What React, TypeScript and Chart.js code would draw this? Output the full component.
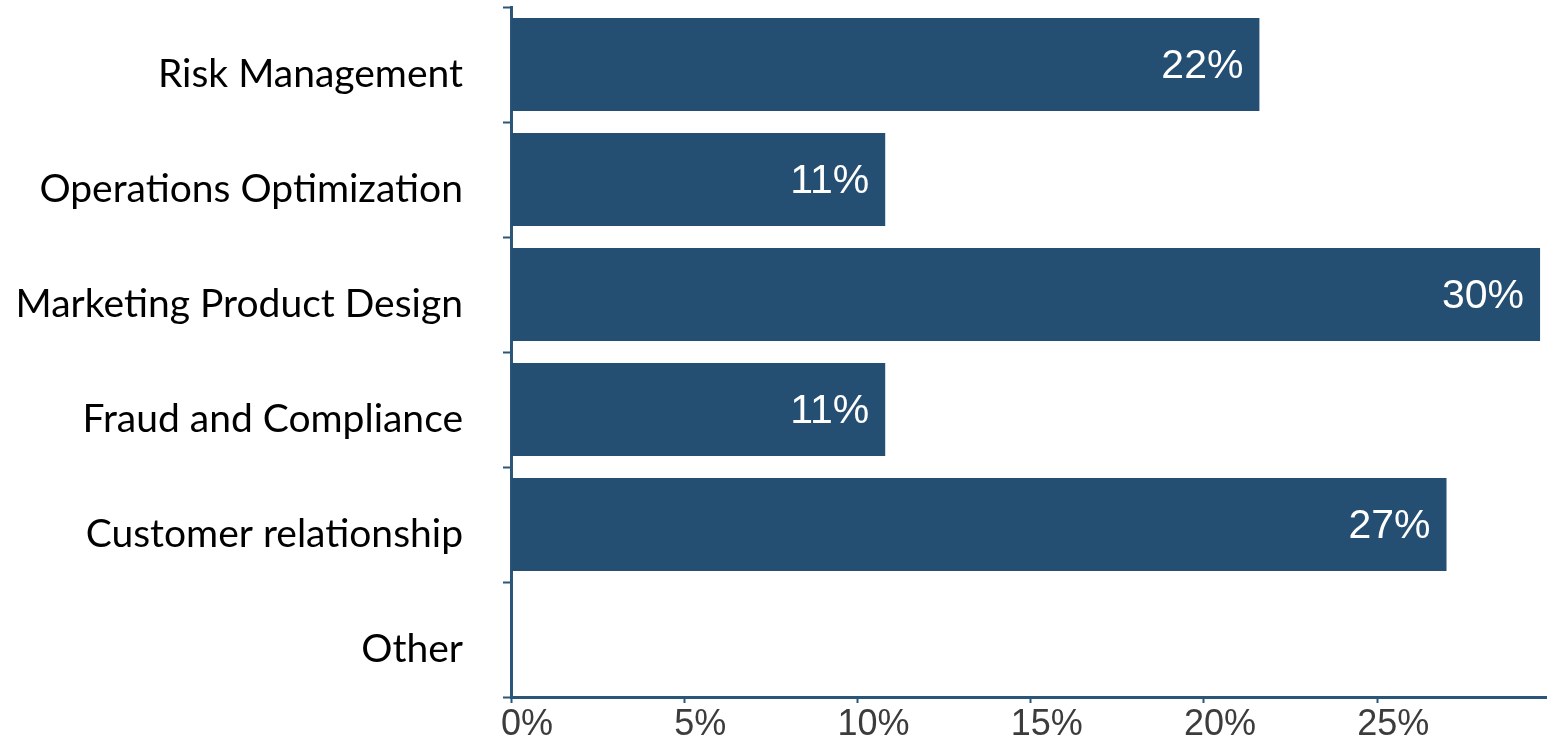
import React, { useEffect, useRef } from "react";
import { Chart, registerables } from "chart.js";

Chart.register(...registerables);

const categories: string[] = [
  "Risk Management",
  "Operations Optimization",
  "Marketing Product Design",
  "Fraud and Compliance",
  "Customer relationship",
  "Other",
];
const values: number[] = [21.6, 10.8, 29.7, 10.8, 27.0, 0];
const xTickStep = 5;
const xMax = 29.9;

const BAR_COLOR = "#254f72";
const AXIS_COLOR = "#2b5679";

const dataLabelPlugin = {
  id: "dataLabelPlugin",
  afterDatasetsDraw(chart: any) {
    const ctx = chart.ctx;
    const meta = chart.getDatasetMeta(0);
    ctx.save();
    ctx.fillStyle = "#ffffff";
    ctx.font = "41px 'Liberation Sans', Arial, sans-serif";
    ctx.textAlign = "right";
    ctx.textBaseline = "middle";
    meta.data.forEach((bar: any, i: number) => {
      const v = values[i];
      if (!v) return;
      ctx.fillText(Math.round(v) + "%", bar.x - 16, bar.y + 2);
    });
    ctx.restore();
  },
};

export default function App() {
  const canvasRef = useRef<HTMLCanvasElement | null>(null);

  useEffect(() => {
    if (!canvasRef.current) return;
    const chart = new Chart(canvasRef.current, {
      type: "bar",
      data: {
        labels: categories,
        datasets: [
          {
            data: values,
            backgroundColor: BAR_COLOR,
            borderWidth: 0,
            barPercentage: 0.81,
            categoryPercentage: 1.0,
          },
        ],
      },
      options: {
        indexAxis: "y",
        animation: false,
        responsive: false,
        maintainAspectRatio: false,
        layout: { padding: { top: 7, right: 0, bottom: 0, left: 0 } },
        plugins: {
          legend: { display: false },
          tooltip: { enabled: false },
          title: { display: false },
        },
        scales: {
          x: {
            type: "linear",
            min: 0,
            max: xMax,
            afterBuildTicks: (scale: any) => {
              scale.ticks = scale.ticks.filter((t: any) => Math.abs(t.value % xTickStep) < 1e-9);
            },
            afterFit: (scale: any) => {
              scale.height = 46;
              scale.paddingLeft = 0;
              scale.paddingRight = 0;
            },
            ticks: {
              stepSize: xTickStep,
              callback: (v: any) => v + "%",
              color: "#3c3c3c",
              font: { family: "'Liberation Sans', Arial, sans-serif", size: 36 },
              labelOffset: 16,
              padding: 0,
              maxRotation: 0,
              autoSkip: false,
            },
            grid: {
              drawOnChartArea: false,
              drawTicks: true,
              tickLength: 6,
              tickWidth: 2,
              tickColor: AXIS_COLOR,
              color: AXIS_COLOR,
            },
            border: { display: true, color: AXIS_COLOR, width: 3 },
          },
          y: {
            type: "category",
            afterFit: (scale: any) => {
              scale.width = 511;
              scale.paddingTop = 0;
              scale.paddingBottom = 0;
            },
            ticks: {
              color: "#000000",
              font: { family: "Lato, 'Open Sans', sans-serif", size: 39 },
              padding: 40,
              labelOffset: 10,
              autoSkip: false,
            },
            grid: {
              offset: true,
              drawOnChartArea: false,
              drawTicks: true,
              tickLength: 8,
              tickWidth: 2,
              tickColor: AXIS_COLOR,
              color: AXIS_COLOR,
            },
            border: { display: true, color: AXIS_COLOR, width: 3 },
          },
        },
      },
      plugins: [dataLabelPlugin],
    });
    return () => chart.destroy();
  }, []);

  return (
    <div style={{ position: "fixed", left: 0, top: 0, width: 1547, height: 743, background: "#fff" }}>
      <canvas ref={canvasRef} width={1547} height={743} />
    </div>
  );
}
